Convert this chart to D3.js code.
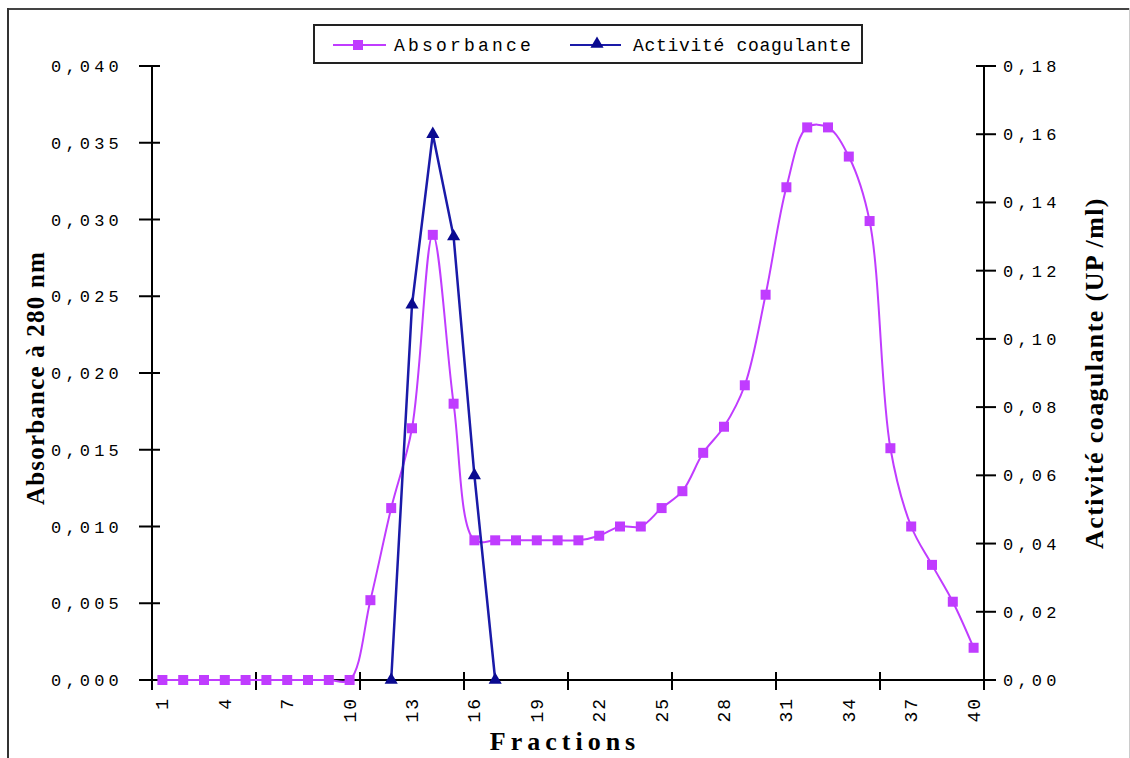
<!DOCTYPE html>
<html><head><meta charset="utf-8">
<script src="https://cdn.jsdelivr.net/npm/d3@7"></script>
<style>
body{margin:0;background:#fff;}
svg{display:block;}
</style></head>
<body>
<svg id="c" width="1130" height="758"></svg>
<script>
const fractions = d3.range(1, 41);
const absorbance = [0,0,0,0,0,0,0,0,0,0,
  0.0052,0.0112,0.0164,0.0290,0.0180,0.0091,0.0091,0.0091,0.0091,0.0091,
  0.0091,0.0094,0.0100,0.0100,0.0112,0.0123,0.0148,0.0165,0.0192,0.0251,
  0.0321,0.0360,0.0360,0.0341,0.0299,0.0151,0.0100,0.0075,0.0051,0.0021];
const activityFractions = [12,13,14,15,16,17];
const activity = [0,0.11,0.16,0.13,0.06,0];
const xLabels = [1,4,7,10,13,16,19,22,25,28,31,34,37,40];
const xTickBounds = [0,5,10,15,20,25,30,35,40];
const leftTicks = [0,0.005,0.010,0.015,0.020,0.025,0.030,0.035,0.040];
const rightTicks = [0,0.02,0.04,0.06,0.08,0.10,0.12,0.14,0.16,0.18];

const purple = "#c03cff", blue = "#1a1aa8";
const svg = d3.select("#c");
const L = 152, R = 984, T = 66, B = 680;

// outer frame
svg.append("line").attr("x1",8).attr("x2",1130).attr("y1",9).attr("y2",9).attr("stroke","#444").attr("stroke-width",2);
svg.append("line").attr("x1",8).attr("x2",8).attr("y1",8).attr("y2",758).attr("stroke","#333").attr("stroke-width",2);
svg.append("line").attr("x1",1129.5).attr("x2",1129.5).attr("y1",8).attr("y2",758).attr("stroke","#ccc").attr("stroke-width",1);

const x = d3.scaleLinear().domain([0.5, 40.5]).range([L, R]);
const yL = d3.scaleLinear().domain([0, 0.04]).range([B, T]);
const yR = d3.scaleLinear().domain([0, 0.18]).range([B, T]);

const fmt = (d, n) => d.toFixed(n).replace(".", ",");

// left axis
const gl = svg.append("g");
gl.append("line").attr("x1",L).attr("x2",L).attr("y1",T).attr("y2",B).attr("stroke","#000").attr("stroke-width",2);
gl.selectAll("line.t").data(leftTicks).join("line").attr("class","t")
  .attr("x1",L-13).attr("x2",L+8).attr("y1",d=>yL(d)).attr("y2",d=>yL(d)).attr("stroke","#000").attr("stroke-width",2);
gl.selectAll("text").data(leftTicks).join("text")
  .attr("x",123).attr("y",d=>yL(d)+6).attr("text-anchor","end")
  .attr("font-family","Liberation Mono").attr("font-size",17).attr("letter-spacing","4.2px")
  .attr("fill","#000").text(d=>fmt(d,3));

// right axis
const gr = svg.append("g");
gr.append("line").attr("x1",R).attr("x2",R).attr("y1",T).attr("y2",B).attr("stroke","#000").attr("stroke-width",2);
gr.selectAll("line.t").data(rightTicks).join("line").attr("class","t")
  .attr("x1",R-8).attr("x2",R+12).attr("y1",d=>yR(d)).attr("y2",d=>yR(d)).attr("stroke","#000").attr("stroke-width",2);
gr.selectAll("text").data(rightTicks).join("text")
  .attr("x",1003).attr("y",d=>yR(d)+6).attr("text-anchor","start")
  .attr("font-family","Liberation Mono").attr("font-size",17).attr("letter-spacing","4.2px")
  .attr("fill","#000").text(d=>fmt(d,2));

// bottom axis
const gb = svg.append("g");
gb.append("line").attr("x1",L-10).attr("x2",R).attr("y1",B).attr("y2",B).attr("stroke","#000").attr("stroke-width",2);
gb.selectAll("line.t").data(xTickBounds).join("line").attr("class","t")
  .attr("x1",d=>x(d+0.5)).attr("x2",d=>x(d+0.5)).attr("y1",B-8).attr("y2",B+10).attr("stroke","#000").attr("stroke-width",2);
gb.selectAll("text").data(xLabels).join("text")
  .attr("transform",d=>`translate(${x(d)+6},697) rotate(-90)`)
  .attr("text-anchor","end")
  .attr("font-family","Liberation Mono").attr("font-size",18).attr("letter-spacing","2px")
  .attr("fill","#000").text(d=>d);

// titles
svg.append("text").attr("x",565).attr("y",750).attr("text-anchor","middle")
  .attr("font-family","Liberation Serif").attr("font-weight","bold").attr("font-size",26).attr("letter-spacing","5px")
  .attr("fill","#000").text("Fractions");
svg.append("text").attr("transform","translate(44,378) rotate(-90)").attr("text-anchor","middle")
  .attr("font-family","Liberation Serif").attr("font-weight","bold").attr("font-size",25).attr("letter-spacing","1.2px")
  .attr("fill","#000").text("Absorbance à 280 nm");
svg.append("text").attr("transform","translate(1103,373) rotate(-90)").attr("text-anchor","middle")
  .attr("font-family","Liberation Serif").attr("font-weight","bold").attr("font-size",26).attr("letter-spacing","1.4px")
  .attr("fill","#000").text("Activité coagulante (UP /ml)");

// absorbance series (smoothed)
const absData = fractions.map((f,i)=>({f, v:absorbance[i]}));
svg.append("path").datum(absData)
  .attr("d", d3.line().x(d=>x(d.f)).y(d=>yL(d.v)).curve(d3.curveCatmullRom))
  .attr("fill","none").attr("stroke",purple).attr("stroke-width",2);
svg.selectAll("rect.abs").data(absData).join("rect").attr("class","abs")
  .attr("x",d=>x(d.f)-5).attr("y",d=>yL(d.v)-5).attr("width",10).attr("height",10).attr("fill",purple);

// activity series
const actData = activityFractions.map((f,i)=>({f, v:activity[i]}));
svg.append("path").datum(actData)
  .attr("d", d3.line().x(d=>x(d.f)).y(d=>yR(d.v)))
  .attr("fill","none").attr("stroke",blue).attr("stroke-width",2.5);
const tri = d3.symbol().type(d3.symbolTriangle).size(75);
svg.selectAll("path.act").data(actData).join("path").attr("class","act")
  .attr("transform",d=>`translate(${x(d.f)},${yR(d.v)})`).attr("d",tri).attr("fill","#0a0a90");

// legend
const lg = svg.append("g");
lg.append("rect").attr("x",314).attr("y",25).attr("width",548).attr("height",38)
  .attr("fill","#fff").attr("stroke","#222").attr("stroke-width",2);
lg.append("line").attr("x1",333).attr("x2",386).attr("y1",45).attr("y2",45).attr("stroke",purple).attr("stroke-width",2);
lg.append("rect").attr("x",353).attr("y",40).attr("width",10).attr("height",10).attr("fill",purple);
lg.append("text").attr("x",394).attr("y",51).attr("font-family","Liberation Mono").attr("font-size",18)
  .attr("letter-spacing","3.2px").attr("fill","#000").text("Absorbance");
lg.append("line").attr("x1",570).attr("x2",621).attr("y1",45).attr("y2",45).attr("stroke",blue).attr("stroke-width",2);
lg.append("path").attr("transform","translate(597,44)").attr("d",tri).attr("fill","#0a0a90");
lg.append("text").attr("x",633).attr("y",51).attr("font-family","Liberation Mono").attr("font-size",18)
  .attr("letter-spacing","0.7px").attr("fill","#000").text("Activité coagulante");
</script>
</body></html>
